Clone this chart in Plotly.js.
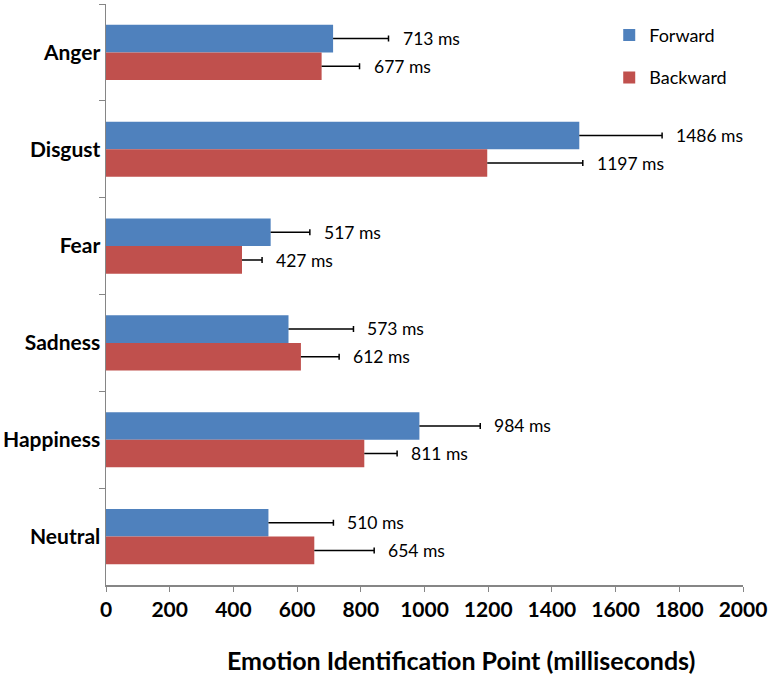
<!DOCTYPE html>
<html>
<head>
<meta charset="utf-8">
<script src="https://cdn.plot.ly/plotly-3.0.1.min.js"></script>
<style>html,body{margin:0;padding:0;background:#fff;}#chart{width:776px;height:676px;}</style>
</head>
<body>
<div id="chart"></div>
<script>
const categories = ["Anger", "Disgust", "Fear", "Sadness", "Happiness", "Neutral"];
const forwardValues = [713, 1486, 517, 573, 984, 510];
const backwardValues = [677, 1197, 427, 612, 811, 654];
const forwardErrors = [174, 260, 123, 204, 191, 204];
const backwardErrors = [119, 300, 63, 120, 103, 188];
const xTickValues = [0, 200, 400, 600, 800, 1000, 1200, 1400, 1600, 1800, 2000];
const xTitle = "Emotion Identification Point (milliseconds)";

const FONT = "Lato, 'Open Sans', sans-serif";
const BLUE = "#4F81BD";
const RED = "#C0504D";

function errStyle(arr) {
  return {type: "data", symmetric: false, array: arr, arrayminus: arr.map(() => 0),
          visible: true, color: "#000", thickness: 1.5, width: 3};
}

const traces = [
  {
    type: "bar", orientation: "h", name: "Forward",
    y: categories, x: forwardValues,
    marker: {color: BLUE},
    error_x: errStyle(forwardErrors),
    legendgroup: "f", hoverinfo: "x+y"
  },
  {
    type: "bar", orientation: "h", name: "Backward",
    y: categories, x: backwardValues,
    marker: {color: RED},
    error_x: errStyle(backwardErrors),
    legendgroup: "b", hoverinfo: "x+y"
  }
];

const annotations = [];
categories.forEach((c, i) => {
  annotations.push({
    x: forwardValues[i] + forwardErrors[i], y: c, xref: "x", yref: "y",
    text: forwardValues[i] + " ms", showarrow: false,
    xanchor: "left", yanchor: "middle", xshift: 12, yshift: 14,
    font: {family: FONT, size: 17.5, color: "#000"}
  });
  annotations.push({
    x: backwardValues[i] + backwardErrors[i], y: c, xref: "x", yref: "y",
    text: backwardValues[i] + " ms", showarrow: false,
    xanchor: "left", yanchor: "middle", xshift: 12, yshift: -14,
    font: {family: FONT, size: 17.5, color: "#000"}
  });
});
annotations.push({
  xref: "paper", yref: "paper", x: 0.557, y: -0.129,
  xanchor: "center", yanchor: "middle", showarrow: false,
  text: "<b>" + xTitle + "</b>",
  font: {family: FONT, size: 25, color: "#000"}
});

const layout = {
  width: 776, height: 676,
  margin: {l: 106, r: 33, t: 4, b: 91},
  paper_bgcolor: "#fff", plot_bgcolor: "#fff",
  barmode: "group", bargap: 0.43, bargroupgap: 0,
  showlegend: true,
  legend: {
    x: 0.79, y: 0.978, xanchor: "left", yanchor: "top",
    font: {family: FONT, size: 18, color: "#000"},
    traceorder: "grouped", tracegroupgap: 16,
    bgcolor: "rgba(0,0,0,0)", itemwidth: 30
  },
  xaxis: {
    range: [0, 2000], tickvals: xTickValues, ticktext: xTickValues.map(String),
    showgrid: false, zeroline: false,
    showline: true, linecolor: "#868686", linewidth: 1.5,
    ticks: "outside", ticklen: 5, tickcolor: "#868686", tickwidth: 1,
    tickfont: {family: FONT, size: 21, color: "#000", weight: "bold"},
    fixedrange: true
  },
  yaxis: {
    type: "category", autorange: "reversed",
    showgrid: false, zeroline: false,
    showline: true, linecolor: "#868686", linewidth: 1.5,
    ticks: "outside", ticklen: 6, tickcolor: "#868686", tickwidth: 1,
    tickson: "boundaries",
    tickfont: {family: FONT, size: 21, color: "#000", weight: "bold"},
    fixedrange: true
  },
  annotations: annotations,
  font: {family: FONT}
};

Plotly.newPlot("chart", traces, layout, {displayModeBar: false, staticPlot: true}).then(function (gd) {
  // one-sided error bars: drop the cap drawn at the bar end (zero-length minus side)
  gd.querySelectorAll(".errorbar path.xerror").forEach(function (p) {
    const d = p.getAttribute("d") || "";
    const m = d.match(/^(M[^v]+v[-\d.e]+m0,-?[\d.e]+H[-\d.e]+)m/);
    if (m) p.setAttribute("d", m[1]);
  });
});
</script>
</body>
</html>
